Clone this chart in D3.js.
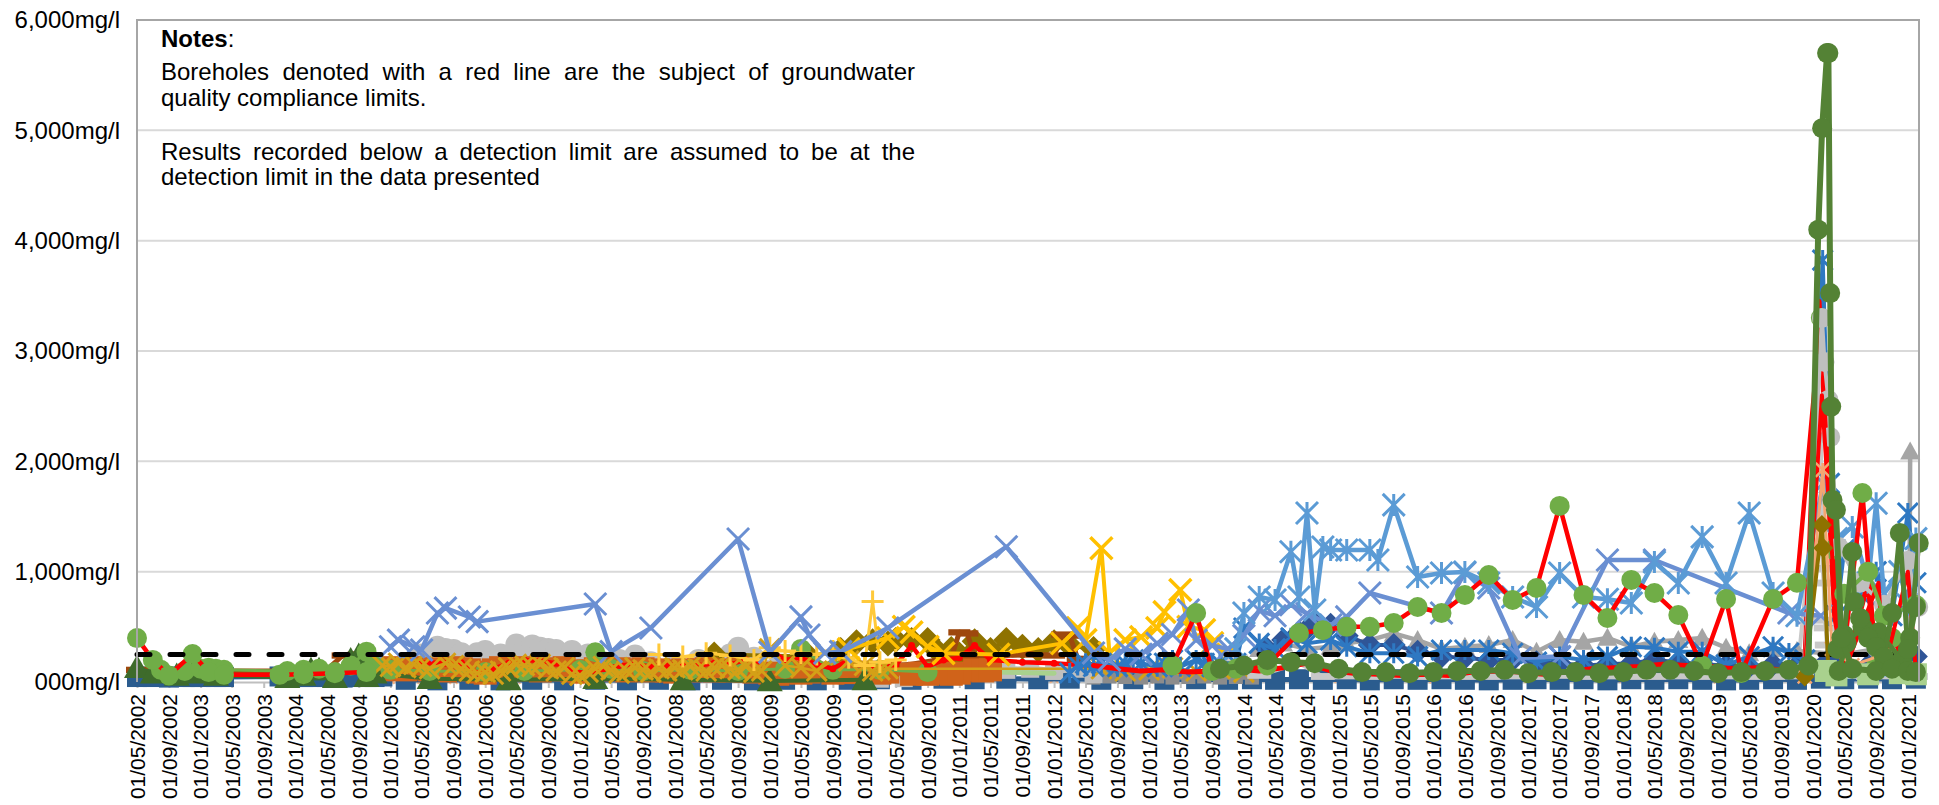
<!DOCTYPE html>
<html>
<head>
<meta charset="utf-8">
<script src="https://cdn.jsdelivr.net/npm/d3@7"></script>
<style>
  html, body { margin: 0; padding: 0; background: #ffffff; }
  svg { display: block; font-family: "Liberation Sans", Arial, sans-serif; }
</style>
</head>
<body>
<svg id="chart" width="1939" height="805"></svg>
<script>
// ---- Borehole chloride results (mg/l), [sample date, value] ----
const yTicks = [0, 1000, 2000, 3000, 4000, 5000, 6000];
const limitLine = [["2002-05-01", 250], ["2021-02-01", 250]];

const peach = [["2005-01",20],["2005-03",15],["2005-05",20],["2005-07",15],["2005-09",20],["2005-11",15],["2006-01",25],["2006-03",15],["2006-05",20],["2007-01",20],["2008-01",25],["2009-01",20],["2010-01",25],["2011-01",20],["2012-01",30],["2013-01",25],["2014-01",30],["2015-01",30],["2016-01",25],["2017-01",30],["2018-01",30],["2019-01",25],["2020-01",30],["2021-01",30]];

const navySq = [["2002-05",45],["2002-06",50],["2002-07",45],["2002-08",50],["2002-09",40],["2002-10",50],["2002-11",45],["2002-12",45],["2003-01",45],["2003-02",50],["2003-03",45],["2003-04",45],["2003-11",50],["2003-12",45],["2004-01",50],["2004-02",45],["2004-03",45],["2004-04",50],["2004-05",45],["2004-06",45],["2004-07",40],["2004-08",45],["2004-09",50],["2004-10",45],["2004-11",45],["2004-12",50],["2005-03",20],["2005-07",15],["2005-11",20],["2006-03",15],["2006-07",20],["2006-11",15],["2007-03",20],["2007-07",15],["2007-11",20],["2008-03",15],["2008-07",20],["2008-11",15],["2009-03",20],["2009-07",15],["2009-11",20],["2010-03",25],["2010-07",20],["2010-11",30],["2011-03",25],["2011-07",30],["2011-11",25],["2012-03",30],["2012-07",20],["2012-11",25],["2013-03",20],["2013-07",25],["2013-11",20],["2014-02",25],["2014-05",20],["2014-08",25],["2014-11",20],["2015-02",25],["2015-05",15],["2015-08",25],["2015-11",20],["2016-02",25],["2016-05",20],["2016-08",15],["2016-11",20],["2017-02",25],["2017-05",20],["2017-08",25],["2017-11",15],["2018-02",25],["2018-05",20],["2018-08",25],["2018-11",20],["2019-02",15],["2019-05",20],["2019-08",25],["2019-11",20],["2020-02",30],["2020-05",25],["2020-08",30],["2020-11",25],["2021-02",30]];

const dkGrayBand = [["2012-06",40],["2012-08",50],["2012-10",45],["2012-12",40],["2013-02",50],["2013-04",40],["2013-06",45],["2013-08",50],["2013-10",40],["2013-12",45],["2014-02",40]];

const grayBand = [["2010-03",30],["2010-06",35],["2010-09",50],["2010-11",90],["2011-01",120],["2011-04",130],["2011-07",110],["2011-10",120],["2012-01",100],["2012-04",120],["2012-06",70]];

const grayCirc = [["2005-05",250],["2005-07",320],["2005-08",300],["2005-09",290],["2005-10",260],["2005-12",260],["2006-01",280],["2006-03",250],["2006-05",340],["2006-06",300],["2006-07",330],["2006-08",310],["2006-09",300],["2006-10",290],["2006-12",280],["2007-02",250],["2007-04",180],["2007-06",200],["2007-08",240],["2007-10",180],["2008-01",170],["2008-04",200],["2008-08",250],["2008-09",310],["2008-11",220],["2009-02",150]];

const lgLine = [["2005-01",90],["2005-06",100],["2006-01",80],["2006-06",90],["2007-01",100],["2007-06",90],["2008-01",100],["2008-06",110],["2009-01",130],["2009-06",150],["2010-01",140],["2010-06",150],["2011-01",100],["2011-06",90],["2012-01",80]];

const oliveDiam = [["2008-06",250],["2009-06",230],["2009-10",290],["2009-12",360],["2010-02",370],["2010-04",350],["2010-05",380],["2010-07",380],["2010-09",380],["2010-10",300],["2010-12",300],["2011-01",250],["2011-03",370],["2011-05",290],["2011-07",380],["2011-09",320],["2011-11",290],["2012-01",360],["2012-03",330],["2012-06",300]];

const brownDash = [["2002-05",110],["2002-09",100],["2003-02",100],["2004-02",100],["2004-05",110],["2004-07",240],["2004-09",250],["2004-12",120],["2005-06",100],["2006-06",90],["2007-06",100],["2008-06",110],["2009-06",100],["2010-06",150],["2010-12",220],["2011-01",450],["2011-02",440],["2011-03",220],["2011-09",250],["2012-01",240],["2012-02",430],["2012-03",420],["2012-04",210],["2012-06",150]];

const orangeSq = [["2004-12",110],["2005-01",130],["2005-02",120],["2005-03",110],["2005-04",130],["2005-05",120],["2005-06",110],["2005-07",120],["2005-08",100],["2005-09",130],["2005-10",120],["2005-11",110],["2005-12",90],["2006-01",80],["2006-02",110],["2006-03",130],["2006-04",120],["2006-05",110],["2006-06",130],["2006-07",120],["2006-08",100],["2006-09",120],["2006-10",110],["2006-11",130],["2006-12",100],["2007-01",90],["2007-02",100],["2007-03",120],["2007-04",130],["2007-05",110],["2007-06",120],["2007-07",100],["2007-08",110],["2007-09",120],["2007-10",100],["2007-11",110],["2007-12",100],["2008-01",90],["2008-02",110],["2008-03",100],["2008-04",110],["2008-05",120],["2008-06",100],["2008-07",110],["2008-08",100],["2008-09",120],["2008-10",100],["2008-11",90],["2009-01",80],["2009-02",70],["2009-04",90],["2009-05",80],["2009-06",90],["2009-09",80],["2009-10",90],["2009-11",85],["2010-02",90],["2010-03",80],["2010-04",90],["2010-07",70],["2010-08",80],["2010-09",70],["2010-10",80],["2010-11",90],["2010-12",70],["2011-01",80],["2011-03",110],["2011-04",100],["2011-05",110]];

const dkGreenTri = [["2002-05",130],["2002-07",80],["2002-10",60],["2002-12",80],["2003-02",90],["2003-03",60],["2003-12",40],["2004-02",60],["2004-03",110],["2004-04",110],["2004-06",40],["2004-08",200],["2004-09",240],["2004-10",50],["2004-11",80],["2005-06",30],["2006-04",20],["2007-03",30],["2008-02",20],["2009-01",10],["2010-01",20]];

const lgCirc = [["2002-08",110],["2002-11",100],["2003-01",120],["2003-02",130],["2003-03",120],["2003-04",110],["2003-12",100],["2004-02",110],["2004-04",120],["2004-06",90],["2004-08",150],["2004-10",275],["2004-11",180],["2005-01",110],["2005-06",100],["2006-01",90],["2006-06",100],["2007-01",110],["2007-03",270],["2007-05",120],["2007-09",100],["2008-03",110],["2008-09",100],["2009-03",120],["2009-05",300],["2009-09",110],["2010-03",110],["2010-09",90]];

const redDots = [["2005-04",170],["2005-06",180],["2005-08",170],["2005-10",175],["2005-12",80],["2006-02",120],["2006-04",170],["2006-06",200],["2006-08",190],["2006-10",170],["2006-12",100],["2007-02",80],["2007-04",120],["2007-06",150],["2007-08",160],["2007-10",140],["2007-12",150],["2008-02",160],["2008-04",150],["2008-06",170],["2008-08",160],["2008-10",200],["2008-12",180],["2009-01",290],["2009-03",200],["2009-05",220],["2009-07",160],["2009-09",120],["2009-11",200],["2010-01",150],["2010-03",130],["2010-05",150],["2010-07",330],["2010-09",140],["2010-11",200],["2011-01",220],["2011-03",330],["2011-05",200],["2011-09",180],["2012-01",170],["2012-05",150]];

const goldX = [["2004-12",150],["2005-01",140],["2005-02",170],["2005-03",130],["2005-04",160],["2005-05",140],["2005-06",120],["2005-08",170],["2005-09",150],["2005-10",120],["2005-11",100],["2005-12",80],["2006-01",90],["2006-02",70],["2006-03",100],["2006-04",130],["2006-05",160],["2006-06",150],["2006-07",140],["2006-08",160],["2006-09",120],["2006-10",100],["2006-11",130],["2006-12",70],["2007-01",60],["2007-02",90],["2007-03",120],["2007-04",140],["2007-05",110],["2007-06",80],["2007-07",100],["2007-08",130],["2007-09",110],["2007-10",90],["2007-11",120],["2007-12",100],["2008-01",130],["2008-02",110],["2008-03",140],["2008-04",120],["2008-05",100],["2008-06",130],["2008-07",150],["2008-08",120],["2008-09",110],["2008-10",140],["2008-11",90],["2008-12",100],["2009-01",300],["2009-03",150],["2009-05",130],["2009-07",100],["2009-10",245],["2009-11",190],["2010-01",150],["2010-02",100],["2010-03",110],["2010-04",120],["2012-07",120],["2012-10",100],["2013-01",110],["2013-04",130],["2013-07",100],["2013-10",120],["2014-01",90]];

const yellowPlus = [["2007-11",250],["2008-02",230],["2008-05",260],["2008-08",240],["2008-11",200],["2009-01",310],["2009-03",280],["2009-05",260],["2009-07",250],["2009-09",280],["2009-11",220],["2010-01",150],["2010-02",730],["2010-03",180],["2010-05",200]];

const yellowX = [["2009-11",300],["2010-04",400],["2010-06",500],["2010-07",450],["2010-09",320],["2010-11",260],["2011-06",250],["2012-02",350],["2012-04",490],["2012-05",380],["2012-07",1213],["2012-08",263],["2012-10",380],["2012-12",408],["2013-02",490],["2013-03",635],["2013-05",834],["2013-06",500],["2013-08",471],["2013-09",353],["2013-11",250]];

const lgrayDash = [["2013-12",218],["2014-03",60],["2014-08",170],["2014-11",50],["2015-02",55],["2015-05",50],["2015-08",60],["2015-11",50],["2016-02",55],["2016-05",50],["2016-08",50],["2016-11",55],["2017-02",50],["2017-05",60],["2017-08",50],["2017-11",55],["2018-02",50],["2018-05",50],["2018-08",55],["2018-11",50],["2019-02",55],["2019-05",50],["2019-08",50],["2019-11",55],["2020-02-01",2200],["2020-02-08",1030],["2020-02-12",897],["2020-02-16",560],["2020-02-20",490],["2020-02-24",335],["2020-02-28",180],["2020-05",60],["2020-08",50],["2020-11",55],["2021-02",50]];

const grayTri = [["2014-03",300],["2014-06",350],["2014-09",300],["2014-12",320],["2015-02",350],["2015-05",380],["2015-08",440],["2015-11",380],["2016-02",300],["2016-05",320],["2016-08",335],["2016-11",380],["2017-02",275],["2017-05",380],["2017-08",365],["2017-11",400],["2018-02",320],["2018-05",365],["2018-08",380],["2018-11",400],["2019-02",310],["2019-05",260],["2019-08",300],["2019-11",280],["2020-05",250],["2020-09",300],["2020-12",200],["2021-01-06",100],["2021-01-10",2090]];

const darkBlueDiam = [["2014-04",300],["2014-06",380],["2014-08",450],["2014-09",480],["2014-10",530],["2014-12",520],["2015-02",420],["2015-05",335],["2015-08",335],["2015-11",275],["2016-02",230],["2016-05",220],["2016-08",200],["2016-11",200],["2017-02",180],["2017-05",170],["2017-08",150],["2017-11",160],["2018-02",170],["2018-05",200],["2018-08",180],["2018-11",160],["2019-02",150],["2019-05",140],["2019-08",160],["2019-11",150],["2020-03",200],["2020-08",150],["2021-02",230]];

const blueAst = [["2012-03",82],["2012-04",150],["2012-05",170],["2012-06",140],["2012-07",170],["2012-09",139],["2012-10",170],["2012-11",200],["2012-12",170],["2013-02",139],["2013-03",170],["2013-04",200],["2013-05",139],["2013-07",200],["2013-08",170],["2013-09",139],["2013-10",170],["2013-12",170],["2014-01",490],["2014-03",350],["2014-05",300],["2014-07",400],["2014-09",350],["2014-12",380],["2015-02",320],["2015-05",260],["2015-08",260],["2015-11",230],["2016-02",290],["2016-05",290],["2016-08",290],["2016-11",260],["2017-02",180],["2017-05",230],["2017-08",200],["2017-11",230],["2018-02",320],["2018-05",310],["2018-08",275],["2018-11",275],["2019-02",155],["2019-05",230],["2019-08",320],["2019-10",263],["2019-12",200],["2020-02-08",3824],["2020-03-05",1800],["2020-04",600],["2020-05",1200],["2020-07",800],["2020-09",1000],["2020-11",600],["2021-01",1532],["2021-02",900]];

const redLow = [["2012-06",150],["2012-09",120],["2012-12",100],["2013-03",110],["2013-06",90],["2013-09",100],["2013-12",120],["2014-03",100],["2014-06",130],["2014-09",170],["2014-12",100],["2015-03",80],["2015-06",70],["2015-09",60],["2015-12",70],["2016-03",60],["2016-06",90],["2016-09",100],["2016-12",90],["2017-03",70],["2017-06",90],["2017-09",120],["2017-12",130],["2018-03",140],["2018-06",160],["2018-09",150],["2018-12",140],["2019-03",120],["2019-06",130],["2019-09",110],["2019-12",120],["2020-01-25",3450],["2020-03-25",600],["2020-05",100],["2020-08",900],["2020-09",100],["2020-12",300],["2021-02",80]];

const slateX = [["2005-01",320],["2005-02",380],["2005-04",320],["2005-05",290],["2005-07",625],["2005-08",670],["2005-11",589],["2005-12",547],["2007-03",707],["2007-05",275],["2007-10",490],["2008-09",1296],["2009-01",270],["2009-05",590],["2009-06",426],["2009-08",263],["2009-10",275],["2010-04",490],["2011-07",1226],["2012-06",263],["2012-08",200],["2012-10",300],["2012-12",250],["2013-02",350],["2013-04",430],["2013-06",653],["2013-07",380],["2013-09",330],["2013-11",300],["2014-01",420],["2014-03",650],["2014-05",600],["2014-07",700],["2014-09",620],["2014-12",517],["2015-02",590],["2015-05",807],["2016-02",625],["2016-05",990],["2016-08",852],["2016-12",218],["2017-05",230],["2017-11",1106],["2018-05",1106],["2019-10",625],["2020-02-01",600]];

const lbAst = [["2013-12",300],["2014-01",625],["2014-03",770],["2014-05",743],["2014-07",1181],["2014-08",770],["2014-09",1532],["2014-10",653],["2014-11",1224],["2014-12",1196],["2015-02",1196],["2015-05",1196],["2015-06",1106],["2015-08",1605],["2015-11",952],["2016-02",988],["2016-05",997],["2016-08",897],["2016-11",770],["2017-02",680],["2017-05",988],["2017-08",770],["2017-11",750],["2018-02",716],["2018-05",1088],["2018-08",897],["2018-11",1315],["2019-02",897],["2019-05",1532],["2019-08",807],["2019-11",600],["2020-02-10",1800],["2020-04",1300],["2020-06",1405],["2020-08",900],["2020-09",1620],["2020-10",800],["2020-12",1000],["2021-01",700],["2021-02",1300]];

const rgEarly = [["2002-05",398],["2002-07",200],["2002-09",60],["2002-12",253],["2003-02",90],["2003-04",65],["2003-11",65],["2004-02",70],["2004-06",80],["2004-10",90]];

const rgLate = [["2013-04",150],["2013-07",625],["2013-09",100],["2013-12",120],["2014-04",150],["2014-08",444],["2014-11",470],["2015-02",500],["2015-05",500],["2015-08",535],["2015-11",680],["2016-02",625],["2016-05",789],["2016-08",970],["2016-11",743],["2017-02",852],["2017-05",1596],["2017-08",789],["2017-11",580],["2018-02",925],["2018-05",807],["2018-08",607],["2018-11",150],["2019-02",752],["2019-04",82],["2019-08",752],["2019-11",900],["2020-02-01",3300],["2020-03-20",1200],["2020-05-01",300],["2020-07-10",1713],["2020-09-01",150],["2020-11-01",400],["2021-01-15",100]];

const graySpike = [["2019-12",100],["2020-02-05",3300],["2020-02-15",2900],["2020-03-01",2557],["2020-03-08",2220],["2020-04-10",1224],["2020-07",900],["2020-10",700],["2021-01",1100],["2021-02-10",680]];

const redSpikeB = [["2019-12",100],["2020-02-05",2600],["2020-03-25",800],["2020-05",100],["2020-09-10",900],["2020-10",100],["2021-01",1000],["2021-02",100]];

const orangeAst = [["2019-12",50],["2020-02-08",1922],["2020-03-15",300],["2020-06",150],["2020-10",250],["2021-02",100]];

const oliveDiam2 = [["2019-12",50],["2020-02-05",1423],["2020-02-10",1215],["2020-03-01",100]];

const lbBand = [["2020-02-20",100],["2020-04",60],["2020-08",70],["2020-12",80],["2021-02",70]];

const lgTail = [["2020-05",800],["2020-08",1000],["2020-10",600],["2021-02",700]];

const dkgTail1 = [["2020-04-05",300],["2020-05-01",426],["2020-06-01",1178],["2020-06-10",725],["2020-07-01",580],["2020-08-01",400],["2020-09-01",317],["2020-10-01",227],["2020-11-01",625],["2020-12-01",1350],["2021-01-01",300],["2021-02-01",680]];

const dkgTail2 = [["2020-04-10",100],["2020-05-10",353],["2020-07-10",500],["2020-09-10",450],["2020-12-10",200],["2021-01-10",400],["2021-02-12",1260]];

const dkGreenCirc = [["2013-10",120],["2014-01",150],["2014-04",200],["2014-07",180],["2014-10",170],["2015-01",120],["2015-04",90],["2015-07",90],["2015-10",80],["2016-01",90],["2016-04",100],["2016-07",100],["2016-10",110],["2017-01",80],["2017-04",90],["2017-07",90],["2017-10",80],["2018-01",90],["2018-04",110],["2018-07",110],["2018-10",100],["2019-01",80],["2019-04",90],["2019-07",100],["2019-10",110],["2019-12-15",150],["2020-01-22",4100],["2020-02-06",5020],["2020-02-25",5700],["2020-03-01",5700],["2020-03-08",3525],["2020-03-12",2496],["2020-03-17",1650],["2020-03-30",1560],["2020-04-20",400],["2020-06",120],["2020-09",100],["2020-11",120],["2021-01",100],["2021-02",90]];

const noteLines = [
  { text: "Boreholes denoted with a red line are the subject of groundwater", justify: true },
  { text: "quality compliance limits.", justify: false },
  { text: "Results recorded below a detection limit are assumed to be at the", justify: true },
  { text: "detection limit in the data presented", justify: false }
];

// ---- drawing ----
const W = 1939, H = 805;
const plot = { left: 137, right: 1919, top: 20, bottom: 682 };
const svg = d3.select("#chart");
svg.append("rect").attr("width", W).attr("height", H).attr("fill", "#ffffff");

const parseDay = d3.timeParse("%Y-%m-%d");
const toDate = s => parseDay(s.length === 7 ? s + "-01" : s);

const x = d3.scaleTime()
  .domain([new Date(2002, 4, 1), new Date(2021, 1, 13)])
  .range([plot.left, plot.right]);
const y = d3.scaleLinear().domain([0, 6000]).range([plot.bottom, plot.top]);

// gridlines
svg.append("g").selectAll("line").data(yTicks.filter(v => v > 0 && v < 6000)).join("line")
  .attr("x1", plot.left).attr("x2", plot.right)
  .attr("y1", d => y(d)).attr("y2", d => y(d))
  .attr("stroke", "#D9D9D9").attr("stroke-width", 2);

// y axis labels
const fmtY = v => v === 0 ? "000mg/l" : d3.format(",")(v) + "mg/l";
const yAxis = d3.axisLeft(y).tickValues(yTicks).tickFormat(fmtY).tickSize(0).tickPadding(17);
const gy = svg.append("g").attr("transform", `translate(${plot.left},0)`).call(yAxis);
gy.select(".domain").remove();
gy.selectAll("text").attr("font-size", 24).attr("fill", "#000")
  .attr("font-family", "'Liberation Sans', Arial, sans-serif");

// x axis: ticks every four months, rotated labels
const xTicks = d3.timeMonth.every(4).range(new Date(2002, 4, 1), new Date(2021, 1, 2));
const xAxis = d3.axisBottom(x).tickValues(xTicks).tickFormat(d3.timeFormat("%d/%m/%Y")).tickSize(6).tickSizeOuter(0);
const gx = svg.append("g").attr("transform", `translate(0,${plot.bottom})`).call(xAxis);
gx.select(".domain").attr("stroke", "#BFBFBF").attr("stroke-width", 2);
gx.selectAll(".tick line").attr("stroke", "#BFBFBF").attr("stroke-width", 2);
gx.selectAll("text")
  .attr("font-size", 21).attr("fill", "#000")
  .attr("font-family", "'Liberation Sans', Arial, sans-serif")
  .attr("text-anchor", "end")
  .attr("transform", "translate(0,12) rotate(-90)")
  .attr("x", 0).attr("y", 0).attr("dy", "0.35em");

// markers
function drawMarker(g, type, s, fill, sw) {
  const h = s / 2;
  switch (type) {
    case "circle":
      g.append("circle").attr("r", h).attr("fill", fill); break;
    case "square":
      g.append("rect").attr("x", -h).attr("y", -h).attr("width", s).attr("height", s).attr("fill", fill); break;
    case "diamond":
      g.append("path").attr("d", `M0,${-h}L${h},0L0,${h}L${-h},0Z`).attr("fill", fill); break;
    case "triangle":
      g.append("path").attr("d", `M0,${-h}L${h},${h * 0.8}L${-h},${h * 0.8}Z`).attr("fill", fill); break;
    case "dash":
      g.append("rect").attr("x", -h).attr("y", -s / 7).attr("width", s).attr("height", s / 3.5).attr("fill", fill); break;
    case "x":
      g.append("path").attr("d", `M${-h},${-h}L${h},${h}M${-h},${h}L${h},${-h}`)
        .attr("stroke", fill).attr("stroke-width", sw).attr("fill", "none"); break;
    case "star":
      g.append("path").attr("d", `M${-h},${-h}L${h},${h}M${-h},${h}L${h},${-h}M0,${-h}L0,${h}`)
        .attr("stroke", fill).attr("stroke-width", sw).attr("fill", "none"); break;
    case "plus":
      g.append("path").attr("d", `M${-h},0L${h},0M0,${-h}L0,${h}`)
        .attr("stroke", fill).attr("stroke-width", sw).attr("fill", "none"); break;
  }
}

const line = d3.line().x(d => x(toDate(d[0]))).y(d => y(d[1]));

function drawSeries(def) {
  const g = svg.append("g").attr("class", "series " + def.name);
  if (def.lw > 0) {
    g.append("path").attr("d", line(def.data)).attr("fill", "none")
      .attr("stroke", def.line).attr("stroke-width", def.lw)
      .attr("stroke-linejoin", "round").attr("stroke-linecap", "round")
      .attr("stroke-dasharray", def.dash || null);
  }
  if (def.mk) {
    g.selectAll("g.m").data(def.data).join("g").attr("class", "m")
      .attr("transform", d => `translate(${x(toDate(d[0]))},${y(d[1])})`)
      .each(function () { drawMarker(d3.select(this), def.mk, def.ms, def.mc || def.line, def.sw || 3); });
  }
}

const seriesDefs = [
  { name: "peach", data: peach, line: "#F4B183", lw: 3, mk: "x", ms: 8, sw: 2 },
  { name: "navySq", data: navySq, line: "#2B5C8E", lw: 5, mk: "square", ms: 20 },
  { name: "dkGrayBand", data: dkGrayBand, line: "#8C8C8C", lw: 5, mk: "square", ms: 14 },
  { name: "grayBand", data: grayBand, line: "#BFBFBF", lw: 6, mk: "square", ms: 18 },
  { name: "grayCirc", data: grayCirc, line: "#BFBFBF", lw: 4, mk: "circle", ms: 22 },
  { name: "lgLine", data: lgLine, line: "#A9D18E", lw: 5 },
  { name: "oliveDiam", data: oliveDiam, line: "#8E7200", lw: 4, mk: "diamond", ms: 26 },
  { name: "brownDash", data: brownDash, line: "#9E480E", lw: 5, mk: "dash", ms: 22 },
  { name: "orangeSq", data: orangeSq, line: "#D0631A", lw: 5, mk: "square", ms: 23 },
  { name: "dkGreenTri", data: dkGreenTri, line: "#3E6B2B", lw: 4, mk: "triangle", ms: 26 },
  { name: "lgCirc", data: lgCirc, line: "#70AD47", lw: 3, mk: "circle", ms: 20 },
  { name: "redDots", data: redDots, line: "#FF0000", lw: 4.5, mk: "circle", ms: 7 },
  { name: "goldX", data: goldX, line: "#D4A017", lw: 2.5, mk: "x", ms: 20, sw: 3 },
  { name: "yellowPlus", data: yellowPlus, line: "#FFC93A", lw: 3, mk: "plus", ms: 22, sw: 3 },
  { name: "yellowX", data: yellowX, line: "#FFC000", lw: 4, mk: "x", ms: 22, sw: 3.5 },
  { name: "lgrayDash", data: lgrayDash, line: "#C8C8C8", lw: 4, mk: "dash", ms: 24 },
  { name: "grayTri", data: grayTri, line: "#A5A5A5", lw: 4.5, mk: "triangle", ms: 20 },
  { name: "darkBlueDiam", data: darkBlueDiam, line: "#2F5597", lw: 4, mk: "diamond", ms: 24 },
  { name: "blueAst", data: blueAst, line: "#2E78C2", lw: 4, mk: "star", ms: 20, sw: 3 },
  { name: "redLow", data: redLow, line: "#FF0000", lw: 5 },
  { name: "slateX", data: slateX, line: "#6A8FD2", lw: 4.5, mk: "x", ms: 22, sw: 3 },
  { name: "lbAst", data: lbAst, line: "#5B9BD5", lw: 4.5, mk: "star", ms: 22, sw: 3 },
  { name: "rgEarly", data: rgEarly, line: "#FF0000", lw: 4.5, mk: "circle", ms: 20, mc: "#70AD47" },
  { name: "rgLate", data: rgLate, line: "#FF0000", lw: 4.5, mk: "circle", ms: 20, mc: "#70AD47" },
  { name: "limit", data: limitLine, line: "#000000", lw: 5, dash: "13,20" },
  { name: "graySpike", data: graySpike, line: "#BFBFBF", lw: 4, mk: "circle", ms: 20 },
  { name: "redSpikeB", data: redSpikeB, line: "#FF0000", lw: 4 },
  { name: "orangeAst", data: orangeAst, line: "#F4A672", lw: 3, mk: "star", ms: 14, sw: 2.5 },
  { name: "oliveDiam2", data: oliveDiam2, line: "#8E7200", lw: 4, mk: "diamond", ms: 20 },
  { name: "lbBand", data: lbBand, line: "#9DC3E6", lw: 7, mk: "square", ms: 22, mc: "#A9D18E" },
  { name: "lgTail", data: lgTail, line: "#70AD47", lw: 4, mk: "circle", ms: 20 },
  { name: "dkgTail2", data: dkgTail2, line: "#548235", lw: 5, mk: "circle", ms: 20 },
  { name: "dkgTail1", data: dkgTail1, line: "#548235", lw: 5, mk: "circle", ms: 20 },
  { name: "dkGreenCirc", data: dkGreenCirc, line: "#548235", lw: 6, mk: "circle", ms: 20 }
];
seriesDefs.forEach(drawSeries);

// plot area border (left axis, top, right)
svg.append("path")
  .attr("d", `M${plot.left},${plot.bottom}V${plot.top}H${plot.right}V${plot.bottom}`)
  .attr("fill", "none").attr("stroke", "#A6A6A6").attr("stroke-width", 2);

// notes block
const notes = svg.append("g").attr("font-size", 24).attr("fill", "#000");
const nx = 161, nw = 754;
const head = notes.append("text").attr("x", nx).attr("y", 47);
head.append("tspan").attr("font-weight", "bold").text("Notes");
head.append("tspan").text(":");
const baselines = [80, 106, 160, 185];
noteLines.forEach((ln, i) => {
  const t = notes.append("text").attr("y", baselines[i]);
  if (!ln.justify) { t.attr("x", nx).text(ln.text); return; }
  const words = ln.text.split(" ");
  const spans = words.map(w => t.append("tspan").text(w));
  const widths = spans.map(s => s.node().getComputedTextLength());
  const gap = (nw - d3.sum(widths)) / (words.length - 1);
  let cx = nx;
  spans.forEach((s, k) => { s.attr("x", cx); cx += widths[k] + gap; });
});
</script>
</body>
</html>
